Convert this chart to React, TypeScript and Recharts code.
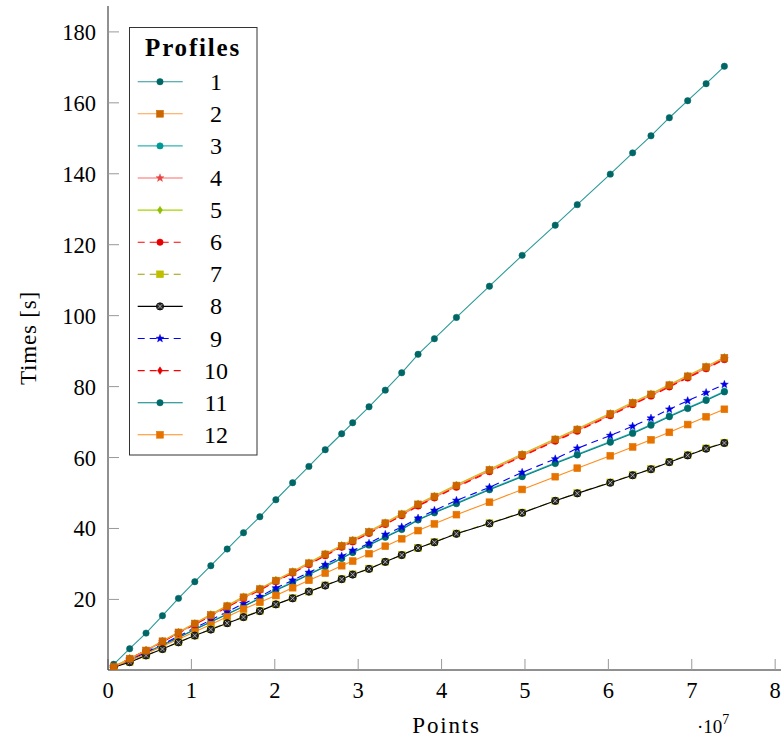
import React from 'react';
import { LineChart, Line, XAxis, YAxis, Legend } from 'recharts';

// Problem sizes (number of points) shared by every profile
const POINTS = [
  680000, 2600000, 4560000, 6530000, 8450000, 10410000, 12330000, 14290000, 16250000,
  18210000, 20130000, 22140000, 24090000, 26050000, 28020000, 29340000, 31300000,
  33250000, 35220000, 37180000, 39140000, 41780000, 45740000, 49660000, 53630000,
  56270000, 60230000, 62910000, 65110000, 67310000, 69510000, 71720000, 73910000,
];

// Run times in seconds, one array per profile
const PROFILE_1 = [1.7, 6.1, 10.5, 15.4, 20.3, 25.0, 29.5, 34.2, 38.8, 43.3, 48.1, 52.9, 57.5, 62.2, 66.7, 69.8, 74.3, 79.0, 83.9, 89.1, 93.5, 99.5, 108.3, 117.0, 125.5, 131.3, 139.9, 145.9, 150.7, 155.8, 160.6, 165.4, 170.3];
const PROFILE_2 = [0.9, 3.3, 5.6, 8.2, 10.7, 13.2, 15.6, 18.1, 20.6, 22.9, 25.3, 27.7, 30.2, 32.7, 35.1, 36.6, 39.0, 41.5, 44.0, 46.8, 49.0, 52.1, 56.5, 60.8, 65.1, 67.9, 72.3, 75.4, 77.8, 80.4, 82.9, 85.5, 88.1];
const PROFILE_3 = [1.0, 2.8, 5.0, 7.2, 9.3, 11.6, 13.7, 15.9, 18.1, 20.4, 22.7, 24.9, 27.1, 29.4, 31.7, 33.3, 35.5, 37.7, 39.9, 42.5, 44.6, 47.2, 51.1, 54.8, 58.5, 60.9, 64.5, 67.0, 69.3, 71.7, 74.0, 76.3, 78.7];
const PROFILE_4 = [1.0, 3.2, 5.5, 8.0, 10.6, 13.0, 15.5, 17.9, 20.4, 22.8, 25.1, 27.6, 30.0, 32.5, 34.9, 36.4, 38.8, 41.3, 43.8, 46.5, 48.8, 51.8, 56.2, 60.5, 64.8, 67.6, 72.0, 75.1, 77.5, 80.1, 82.6, 85.2, 87.8];
const PROFILE_5 = [1.0, 3.4, 5.7, 8.3, 10.8, 13.3, 15.8, 18.3, 20.8, 23.1, 25.5, 27.9, 30.4, 32.9, 35.3, 36.8, 39.2, 41.7, 44.2, 47.0, 49.2, 52.3, 56.7, 61.0, 65.3, 68.1, 72.5, 75.6, 78.0, 80.6, 83.1, 85.7, 88.3];
const PROFILE_6 = [0.9, 3.2, 5.5, 8.0, 10.5, 12.9, 15.3, 17.8, 20.2, 22.6, 25.0, 27.4, 29.8, 32.3, 34.7, 36.2, 38.6, 41.1, 43.6, 46.3, 48.6, 51.6, 56.0, 60.3, 64.6, 67.4, 71.8, 74.9, 77.3, 79.9, 82.4, 85.0, 87.6];
const PROFILE_7 = [0.9, 2.3, 4.2, 6.1, 7.9, 9.8, 11.6, 13.4, 15.1, 16.8, 18.6, 20.4, 22.2, 24.0, 25.8, 27.1, 28.7, 30.6, 32.6, 34.5, 36.2, 38.6, 41.5, 44.5, 47.8, 50.0, 53.0, 55.1, 56.8, 58.8, 60.7, 62.6, 64.2];
const PROFILE_8 = [0.9, 2.3, 4.2, 6.0, 7.9, 9.8, 11.5, 13.3, 15.0, 16.7, 18.6, 20.3, 22.2, 23.9, 25.7, 27.0, 28.6, 30.6, 32.5, 34.5, 36.1, 38.5, 41.4, 44.4, 47.8, 49.9, 52.9, 55.0, 56.7, 58.7, 60.6, 62.5, 64.1];
const PROFILE_9 = [1.0, 2.9, 5.1, 7.4, 9.6, 12.0, 14.2, 16.5, 18.8, 20.8, 23.2, 25.4, 27.6, 29.8, 32.2, 33.8, 35.8, 38.3, 40.4, 42.9, 45.1, 47.9, 51.6, 55.8, 59.6, 62.6, 66.2, 68.8, 71.1, 73.6, 76.0, 78.3, 80.6];
const PROFILE_10 = [1.0, 3.3, 5.6, 8.1, 10.6, 13.1, 15.5, 18.0, 20.4, 22.8, 25.2, 27.5, 30.0, 32.5, 34.9, 36.5, 38.9, 41.3, 43.8, 46.6, 48.8, 51.9, 56.3, 60.6, 64.9, 67.7, 72.1, 75.2, 77.6, 80.2, 82.7, 85.3, 87.9];
const PROFILE_11 = [1.0, 2.8, 4.9, 7.1, 9.2, 11.5, 13.6, 15.8, 18.0, 20.3, 22.6, 24.7, 27.0, 29.2, 31.5, 33.2, 35.3, 37.5, 39.7, 42.4, 44.4, 47.0, 50.9, 54.6, 58.3, 60.7, 64.3, 66.8, 69.1, 71.5, 73.8, 76.1, 78.5];
const PROFILE_12 = [0.9, 2.7, 4.7, 6.8, 8.8, 10.9, 12.9, 15.1, 17.3, 19.2, 21.1, 23.3, 25.4, 27.4, 29.5, 30.8, 32.9, 35.0, 37.1, 39.4, 41.3, 43.9, 47.4, 51.0, 54.6, 57.0, 60.5, 63.0, 65.0, 67.1, 69.3, 71.5, 73.6];

const X_TICKS = [0, 10000000, 20000000, 30000000, 40000000, 50000000, 60000000, 70000000, 80000000];
const Y_TICKS = [20, 40, 60, 80, 100, 120, 140, 160, 180];

const FONT = "'Liberation Serif', 'DejaVu Serif', serif";

type MarkKind = 'circle' | 'square' | 'star' | 'diamond' | 'otimes';

interface Profile {
  key: string;
  label: string;
  values: number[];
  line: string;
  mark: string;
  kind: MarkKind;
  dash?: string;
}

const DASH = '7 5';

const PROFILES: Profile[] = [
  { key: 'p1', label: '1', values: PROFILE_1, line: '#2b9999', mark: '#006666', kind: 'circle' },
  { key: 'p2', label: '2', values: PROFILE_2, line: '#ff9f4a', mark: '#cc6600', kind: 'square' },
  { key: 'p3', label: '3', values: PROFILE_3, line: '#33b3b3', mark: '#009999', kind: 'circle' },
  { key: 'p4', label: '4', values: PROFILE_4, line: '#ff6b6b', mark: '#e64545', kind: 'star' },
  { key: 'p5', label: '5', values: PROFILE_5, line: '#a6d400', mark: '#8fbf00', kind: 'diamond' },
  { key: 'p6', label: '6', values: PROFILE_6, line: '#ff0000', mark: '#e60000', kind: 'circle', dash: DASH },
  { key: 'p7', label: '7', values: PROFILE_7, line: '#9e9e00', mark: '#bfbf00', kind: 'square', dash: DASH },
  { key: 'p8', label: '8', values: PROFILE_8, line: '#000000', mark: '#1a1a1a', kind: 'otimes' },
  { key: 'p9', label: '9', values: PROFILE_9, line: '#0000ff', mark: '#0000e6', kind: 'star', dash: DASH },
  { key: 'p10', label: '10', values: PROFILE_10, line: '#ff0000', mark: '#e60000', kind: 'diamond', dash: DASH },
  { key: 'p11', label: '11', values: PROFILE_11, line: '#008080', mark: '#006b6b', kind: 'circle' },
  { key: 'p12', label: '12', values: PROFILE_12, line: '#ff8c1a', mark: '#e67300', kind: 'square' },
];

// Series are stacked so that the orange squares stay visible on the upper bundle
const DRAW_ORDER = ['p1', 'p3', 'p11', 'p9', 'p12', 'p7', 'p8', 'p4', 'p5', 'p6', 'p10', 'p2'];

const rows = POINTS.map((x, i) => {
  const row: Record<string, number> = { x };
  PROFILES.forEach((p) => {
    row[p.key] = p.values[i];
  });
  return row;
});

function starPoints(cx: number, cy: number, ro: number, ri: number) {
  const pts: string[] = [];
  for (let k = 0; k < 10; k++) {
    const r = k % 2 === 0 ? ro : ri;
    const a = -Math.PI / 2 + (k * Math.PI) / 5;
    pts.push(`${cx + r * Math.cos(a)},${cy + r * Math.sin(a)}`);
  }
  return pts.join(' ');
}

function Marker({ kind, cx, cy, color }: { kind: MarkKind; cx: number; cy: number; color: string }) {
  if (cx == null || cy == null || isNaN(cx) || isNaN(cy)) return null;
  switch (kind) {
    case 'square':
      return <rect x={cx - 3.4} y={cy - 3.4} width={6.8} height={6.8} fill={color} stroke={color} strokeWidth={0.6} />;
    case 'star':
      return <polygon points={starPoints(cx, cy, 4.2, 1.8)} fill={color} stroke={color} strokeWidth={0.4} />;
    case 'diamond':
      return <polygon points={`${cx},${cy - 3.8} ${cx + 2.5},${cy} ${cx},${cy + 3.8} ${cx - 2.5},${cy}`} fill={color} stroke={color} strokeWidth={0.5} />;
    case 'otimes':
      return (
        <g>
          <circle cx={cx} cy={cy} r={3.6} fill="#2a2a2a" stroke="#000" strokeWidth={0.8} />
          <line x1={cx - 2.2} y1={cy - 2.2} x2={cx + 2.2} y2={cy + 2.2} stroke="#c8c8c8" strokeWidth={0.8} />
          <line x1={cx - 2.2} y1={cy + 2.2} x2={cx + 2.2} y2={cy - 2.2} stroke="#c8c8c8" strokeWidth={0.8} />
        </g>
      );
    default:
      return <circle cx={cx} cy={cy} r={3.2} fill={color} stroke={color} strokeWidth={0.5} />;
  }
}

const serifText: React.CSSProperties = { fontFamily: FONT };

function ProfileLegend() {
  return (
    <svg width={129} height={429} style={{ display: 'block' }}>
      <rect x={0.5} y={0.5} width={127.5} height={427.5} fill="#fff" stroke="#333" strokeWidth={1} />
      <text x={64} y={29} textAnchor="middle" style={{ ...serifText, fontWeight: 'bold', fontSize: 25, letterSpacing: 1.8 }} fill="#000">
        Profiles
      </text>
      {PROFILES.map((p, i) => {
        const cy = 54.7 + 32.1 * i;
        return (
          <g key={p.key}>
            <line x1={8.7} y1={cy} x2={53.7} y2={cy} stroke={p.line} strokeWidth={1.1} strokeDasharray={p.dash} />
            <Marker kind={p.kind} cx={31} cy={cy} color={p.mark} />
            <text x={87} y={cy + 8} textAnchor="middle" style={{ ...serifText, fontSize: 24 }} fill="#000">
              {p.label}
            </text>
          </g>
        );
      })}
    </svg>
  );
}

function PointsTitle(props: any) {
  const vb = props.viewBox || { x: 108, y: 670, width: 673, height: 77 };
  const base = vb.y + 63;
  return (
    <g fill="#000">
      <text x={vb.x + vb.width / 2 + 2} y={base} textAnchor="middle" style={{ ...serifText, fontSize: 23, letterSpacing: 1.8 }}>
        Points
      </text>
      <text x={vb.x + vb.width - 84} y={base} style={{ ...serifText, fontSize: 19 }}>
        {'\u00b710'}
        <tspan dy={-9} style={{ fontSize: 14 }}>7</tspan>
      </text>
    </g>
  );
}

function TimesTitle(props: any) {
  const vb = props.viewBox || { x: 0, y: 6, width: 108, height: 664 };
  const cx = 36;
  const cy = vb.y + vb.height / 2;
  return (
    <text x={cx} y={cy} transform={`rotate(-90, ${cx}, ${cy})`} textAnchor="middle" style={{ ...serifText, fontSize: 23, letterSpacing: 0.8 }} fill="#000">
      Times [s]
    </text>
  );
}

const tickStyle = { fill: '#000', fontSize: 22.5, style: { fontFamily: FONT } };
const X_DOMAIN: [number, number] = [0, 80700000];
const Y_DOMAIN: [number, number] = [0.1, 187.3];

export default function App() {
  return (
    <div style={{ position: 'absolute', left: 0, top: 0, width: 782, height: 747, background: '#fff', fontFamily: FONT }}>
      <LineChart width={782} height={747} data={rows} margin={{ top: 6, right: 1, bottom: 0, left: 0 }} style={{ fontFamily: FONT }}>
        <XAxis
          xAxisId="b"
          dataKey="x"
          type="number"
          orientation="bottom"
          domain={X_DOMAIN}
          ticks={X_TICKS}
          interval={0}
          allowDataOverflow
          height={77}
          tickSize={-11}
          tickMargin={23}
          tickFormatter={(v: number) => String(v / 10000000)}
          tick={tickStyle}
          axisLine={{ stroke: '#222', strokeWidth: 1 }}
          tickLine={{ stroke: '#999', strokeWidth: 1 }}
          label={<PointsTitle />}
        />
        <XAxis
          xAxisId="t"
          dataKey="x"
          type="number"
          orientation="top"
          domain={X_DOMAIN}
          ticks={X_TICKS}
          interval={0}
          allowDataOverflow
          height={0}
          tickSize={-11}
          tick={false}
          axisLine={{ stroke: '#222', strokeWidth: 1 }}
          tickLine={{ stroke: '#999', strokeWidth: 1 }}
        />
        <YAxis
          yAxisId="l"
          type="number"
          orientation="left"
          domain={Y_DOMAIN}
          ticks={Y_TICKS}
          interval={0}
          allowDataOverflow
          width={108}
          tickSize={-11}
          tickMargin={23}
          tick={tickStyle}
          axisLine={{ stroke: '#222', strokeWidth: 1 }}
          tickLine={{ stroke: '#999', strokeWidth: 1 }}
          label={<TimesTitle />}
        />
        <YAxis
          yAxisId="r"
          type="number"
          orientation="right"
          domain={Y_DOMAIN}
          ticks={Y_TICKS}
          interval={0}
          allowDataOverflow
          width={0}
          tickSize={-11}
          tick={false}
          axisLine={{ stroke: '#222', strokeWidth: 1 }}
          tickLine={{ stroke: '#999', strokeWidth: 1 }}
        />
        {DRAW_ORDER.map((k) => {
          const p = PROFILES.find((q) => q.key === k)!;
          return (
            <Line
              key={p.key}
              xAxisId="b"
              yAxisId="l"
              dataKey={p.key}
              type="linear"
              stroke={p.line}
              strokeWidth={1.1}
              strokeDasharray={p.dash}
              isAnimationActive={false}
              dot={(props: any) => <Marker key={`${p.key}-${props.index}`} kind={p.kind} cx={props.cx} cy={props.cy} color={p.mark} />}
              activeDot={false}
            />
          );
        })}
        <Legend
          layout="vertical"
          align="center"
          verticalAlign="middle"
          content={() => <ProfileLegend />}
          wrapperStyle={{ left: 129, top: 27, width: 129, height: 429, margin: 0 }}
        />
      </LineChart>
    </div>
  );
}
